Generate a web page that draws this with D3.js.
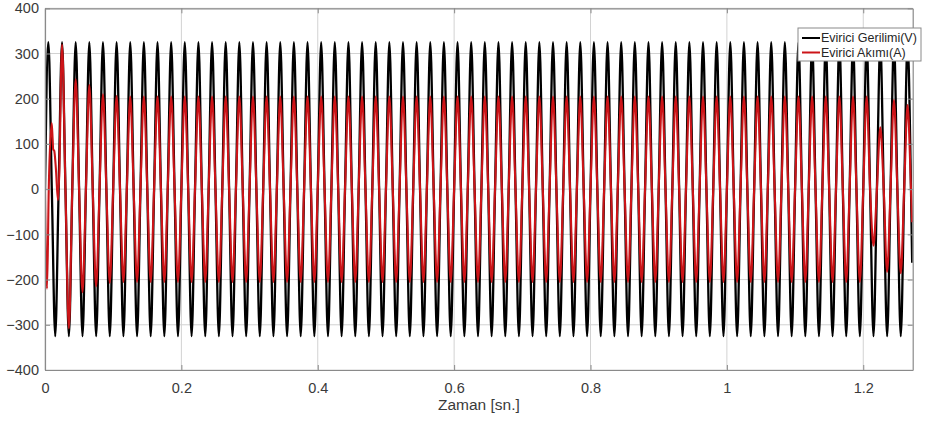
<!DOCTYPE html>
<html>
<head>
<meta charset="utf-8">
<script src="https://cdn.jsdelivr.net/npm/d3@7"></script>
<style>
  html, body { margin: 0; padding: 0; background: #fff; }
  svg { display: block; font-family: "Liberation Sans", Arial, sans-serif; }
</style>
</head>
<body>
<svg id="chart" width="925" height="421"></svg>
<script>
// ---------------- data ----------------
const xTicks = [0, 0.2, 0.4, 0.6, 0.8, 1, 1.2];
const yTicks = [-400, -300, -200, -100, 0, 100, 200, 300, 400];
const xDomain = [0, 1.2725];
const yDomain = [-400, 400];
const seriesNames = ["Evirici Gerilimi(V)", "Evirici Akımı(A)"];
const halfPeriod = 0.01;          // 50 Hz signal
const endTime = 1.2717;

// inverter voltage: extremum values at t = 0.005 + 0.01*k (k = 0..126)
const voltagePeaks = [
  325,-325,325,-325,325,-325,325,-325,325,-325,
  325,-325,325,-325,325,-325,325,-325,325,-325,
  325,-325,325,-325,325,-325,325,-325,325,-325,
  325,-325,325,-325,325,-325,325,-325,325,-325,
  325,-325,325,-325,325,-325,325,-325,325,-325,
  325,-325,325,-325,325,-325,325,-325,325,-325,
  325,-325,325,-325,325,-325,325,-325,325,-325,
  325,-325,325,-325,325,-325,325,-325,325,-325,
  325,-325,325,-325,325,-325,325,-325,325,-325,
  325,-325,325,-325,325,-325,325,-325,325,-325,
  325,-325,325,-325,325,-325,325,-325,325,-325,
  325,-325,325,-325,325,-325,325,-325,325,-325,
  325,-325,325,-325,325,-325,325
];
const voltageEnd = -163;

// inverter current: start-up transient keypoints (first 0.02 s)
const currentStartTimes  = [0, 0.0012, 0.003, 0.0055, 0.0098, 0.0112, 0.012, 0.0135, 0.016, 0.019, 0.0198];
const currentStartValues = [0, -150, -220, 0, 146, 110, 88, 85, 45, -24, 0];
// current extremum values at t = 0.005 + 0.01*k (k = 2..126)
const currentPeaks = [
  320,-308,243,-228,230,-215,210,-207,206,-205,
  205,-205,205,-205,205,-205,205,-205,205,-205,
  205,-205,205,-205,205,-205,205,-205,205,-205,
  205,-205,205,-205,205,-205,205,-205,205,-205,
  205,-205,205,-205,205,-205,205,-205,205,-205,
  205,-205,205,-205,205,-205,205,-205,205,-205,
  205,-205,205,-205,205,-205,205,-205,205,-205,
  205,-205,205,-205,205,-205,205,-205,205,-205,
  205,-205,205,-205,205,-205,205,-205,205,-205,
  205,-205,205,-205,205,-205,205,-205,205,-205,
  205,-205,205,-205,205,-205,205,-205,205,-205,
  205,-205,205,-205,205,-205,205,-205,205,
  -125,137,-183,197,-186,186
];
const currentPeakStart = 2;
const currentEnd = -73;

// ---------------- build point tables ----------------
function buildPoints(peaks, firstK, lead, endVal) {
  const pts = lead.slice();
  peaks.forEach((v, i) => {
    const k = firstK + i;
    const tz = k * halfPeriod;
    if (!(pts.length && pts[pts.length - 1][0] >= tz - 1e-9)) pts.push([tz, 0]);
    pts.push([tz + halfPeriod / 2, v]);
  });
  const kEnd = firstK + peaks.length;
  pts.push([kEnd * halfPeriod, 0]);
  pts.push([endTime, endVal]);
  return pts;
}
const voltagePts = buildPoints(voltagePeaks, 0, [[0, 0]], voltageEnd);
const currentPts = buildPoints(currentPeaks, currentPeakStart,
  currentStartTimes.map((t, i) => [t, currentStartValues[i]]), currentEnd);

// ---------------- layout ----------------
const svg = d3.select("#chart");
const L = 45, R = 912.7, T = 8.3, B = 370;
const x = d3.scaleLinear().domain(xDomain).range([L, R]);
const y = d3.scaleLinear().domain(yDomain).range([B, T]);

// background
svg.append("rect").attr("x", L).attr("y", T).attr("width", R - L).attr("height", B - T).attr("fill", "#fff");

// grid
const grid = svg.append("g").attr("stroke", "#d2d2d2").attr("stroke-width", 1);
grid.selectAll(".gx").data(xTicks).join("line")
  .attr("x1", d => x(d)).attr("x2", d => x(d)).attr("y1", T).attr("y2", B);
grid.selectAll(".gy").data(yTicks).join("line")
  .attr("x1", L).attr("x2", R).attr("y1", d => y(d)).attr("y2", d => y(d));

// lines
const line = d3.line().x(d => x(d[0])).y(d => y(d[1])).curve(d3.curveMonotoneX);
const clip = svg.append("clipPath").attr("id", "clip").append("rect")
  .attr("x", L).attr("y", T).attr("width", R - L).attr("height", B - T);
const plot = svg.append("g").attr("clip-path", "url(#clip)");
plot.append("path").datum(voltagePts).attr("d", line)
  .attr("fill", "none").attr("stroke", "#000").attr("stroke-width", 2.3).attr("stroke-linejoin", "round");
plot.append("path").datum(currentPts).attr("d", line)
  .attr("fill", "none").attr("stroke", "#cc1418").attr("stroke-width", 2.1).attr("stroke-linejoin", "round");

// axes (MATLAB style: ticks inward)
const fmt = d => d3.format("~g")(d);
const xAxis = svg.append("g").attr("transform", `translate(0,${B})`)
  .call(d3.axisBottom(x).tickValues(xTicks).tickFormat(fmt).tickSizeInner(-5).tickSizeOuter(0).tickPadding(13));
const yAxis = svg.append("g").attr("transform", `translate(${L},0)`)
  .call(d3.axisLeft(y).tickValues(yTicks).tickFormat(fmt).tickSizeInner(-5).tickSizeOuter(0).tickPadding(6));
const xTop = svg.append("g").attr("transform", `translate(0,${T})`)
  .call(d3.axisTop(x).tickValues(xTicks).tickFormat("").tickSizeInner(-5).tickSizeOuter(0));
const yRight = svg.append("g").attr("transform", `translate(${R},0)`)
  .call(d3.axisRight(y).tickValues(yTicks).tickFormat("").tickSizeInner(-5).tickSizeOuter(0));
[xAxis, yAxis, xTop, yRight].forEach(g => {
  g.select(".domain").attr("stroke", "#8a8a8a").attr("stroke-width", 1.2);
  g.selectAll(".tick line").attr("stroke", "#8a8a8a");
  g.selectAll(".tick text").attr("fill", "#3a3a3a").style("font-size", "14.5px")
    .style("font-family", "'Liberation Sans', Arial, sans-serif");
});

// x axis label
svg.append("text").attr("x", (L + R) / 2).attr("y", 410).attr("text-anchor", "middle")
  .attr("fill", "#3a3a3a").style("font-size", "15.5px").text("Zaman [sn.]");

// legend
const lg = svg.append("g").attr("transform", "translate(798,28)");
lg.append("rect").attr("width", 123).attr("height", 33).attr("fill", "#fff")
  .attr("stroke", "#8a8a8a").attr("stroke-width", 1);
const colors = ["#000", "#cc1418"];
seriesNames.forEach((n, i) => {
  const cy = 10 + i * 14.5;
  lg.append("line").attr("x1", 4).attr("x2", 22).attr("y1", cy).attr("y2", cy)
    .attr("stroke", colors[i]).attr("stroke-width", 2);
  lg.append("text").attr("x", 23).attr("y", cy + 4.3).attr("fill", "#262626")
    .style("font-size", "12.5px").text(n);
});
</script>
</body>
</html>
